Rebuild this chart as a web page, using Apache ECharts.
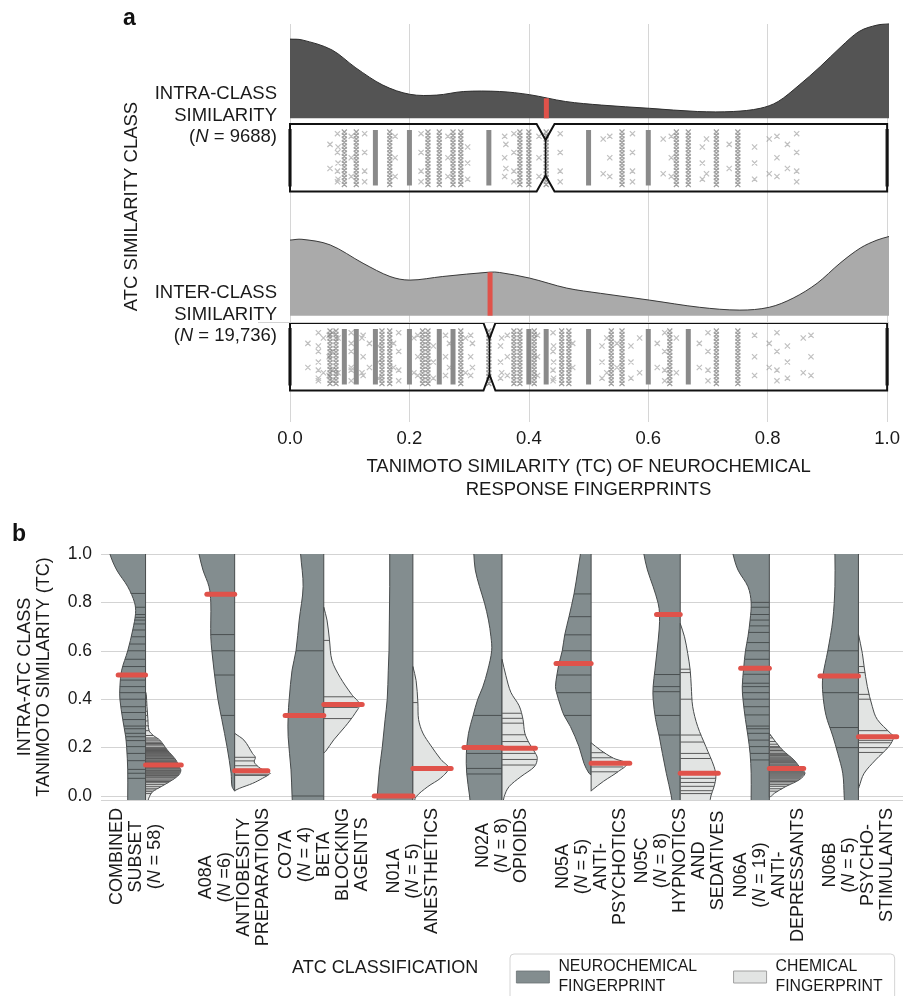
<!DOCTYPE html>
<html><head><meta charset="utf-8">
<script src="https://cdn.jsdelivr.net/npm/echarts@6/dist/echarts.min.js"></script>
<style>html,body{margin:0;padding:0;background:#fff}#c{width:903px;height:996px}</style>
</head><body><div id="c"></div>
<script>
// ================= DATA =================
// Panel a
const ROW_LABELS = [['INTER-CLASS', 'SIMILARITY', '(N = 19,736)'], ['INTRA-CLASS', 'SIMILARITY', '(N = 9688)']];
const A_X_TITLE = 'TANIMOTO SIMILARITY (TC) OF NEUROCHEMICAL\nRESPONSE FINGERPRINTS';
const A_Y_TITLE = 'ATC SIMILARITY CLASS';
const INTRA_DENSITY = [[0,1.98],[0.02,1.96],[0.07,1.71],[0.11,1.26],[0.155,0.83],[0.2,0.6],[0.245,0.58],[0.29,0.67],[0.35,0.67],[0.4,0.59],[0.46,0.42],[0.52,0.33],[0.6,0.25],[0.68,0.17],[0.74,0.17],[0.785,0.25],[0.815,0.42],[0.85,0.83],[0.885,1.29],[0.92,1.79],[0.95,2.17],[0.98,2.33],[1.0,2.36]];
const INTER_DENSITY = [[0,1.89],[0.02,1.91],[0.067,1.77],[0.122,1.31],[0.167,0.98],[0.2,0.89],[0.255,0.98],[0.334,1.09],[0.35,1.08],[0.4,0.94],[0.462,0.69],[0.518,0.56],[0.6,0.39],[0.684,0.21],[0.751,0.14],[0.8,0.21],[0.84,0.44],[0.88,0.81],[0.918,1.31],[0.952,1.69],[0.98,1.89],[1.0,1.98]];
const MEDIANS_A = [0.334, 0.428];        // [inter, intra]
const MEDIAN_DENS_A = [1.085, 0.5];
const NOTCH_A = [0.010, 0.015];
// distinct TC columns of points: [tc, level]  (1 sparse, 2 medium, 3 dense, 4 edge)
const INTRA_COLS = [[0,4],[0.067,1],[0.077,1],[0.083,1],[0.091,2],[0.1,1],[0.111,2],[0.125,1],[0.143,3],[0.167,2],[0.176,1],[0.2,3],[0.222,1],[0.231,2],[0.25,2],[0.267,1],[0.273,2],[0.286,2],[0.3,1],[0.333,3],[0.357,1],[0.364,1],[0.375,1],[0.385,2],[0.4,2],[0.417,1],[0.429,2],[0.455,1],[0.5,3],[0.522,1],[0.538,1],[0.556,2],[0.571,1],[0.6,3],[0.625,1],[0.636,1],[0.647,2],[0.667,2],[0.688,1],[0.7,1],[0.714,2],[0.733,1],[0.75,2],[0.778,1],[0.8,1],[0.818,1],[0.833,1],[0.846,1],[1.0,4]];
const INTER_COLS = [[0,4],[0.03,1],[0.045,1],[0.05,1],[0.056,1],[0.063,1],[0.067,2],[0.071,1],[0.077,2],[0.083,1],[0.091,3],[0.1,1],[0.105,1],[0.111,3],[0.118,1],[0.125,1],[0.133,1],[0.143,3],[0.15,1],[0.154,2],[0.167,2],[0.176,1],[0.182,1],[0.2,3],[0.21,1],[0.214,1],[0.222,2],[0.231,2],[0.24,1],[0.25,3],[0.263,1],[0.267,1],[0.273,3],[0.286,2],[0.294,1],[0.3,1],[0.308,1],[0.333,2],[0.35,1],[0.357,1],[0.364,1],[0.375,2],[0.385,2],[0.4,3],[0.409,2],[0.417,1],[0.429,3],[0.438,1],[0.444,1],[0.455,2],[0.467,2],[0.476,1],[0.5,3],[0.52,1],[0.533,1],[0.538,2],[0.545,1],[0.556,2],[0.571,1],[0.583,1],[0.6,3],[0.615,1],[0.625,1],[0.636,2],[0.647,1],[0.667,3],[0.688,1],[0.7,1],[0.714,2],[0.75,2],[0.778,1],[0.8,1],[0.818,1],[0.833,1],[0.857,1],[0.875,1],[1.0,4]];
const JITTER_PATTERNS = [[0.1,0.5,0.85],[0.25,0.7],[0.05,0.4,0.75,0.95],[0.3,0.6,0.9],[0.15,0.8]];

// Panel b
const CATEGORIES = ['COMBINED SUBSET','A08A','CO7A','N01A','N02A','N05A','N05C','N06A','N06B'];
const CAT_LINES = [
  ['COMBINED','SUBSET','(N = 58)',' '],
  ['A08A','(N =6)','ANTIOBESITY','PREPARATIONS'],
  ['CO7A','(N = 4)','BETA','BLOCKING','AGENTS'],
  ['N01A','(N = 5)','ANESTHETICS'],
  ['N02A','(N = 8)','OPIOIDS'],
  ['N05A','(N = 5)','ANTI-','PSYCHOTICS'],
  ['N05C','(N = 8)','HYPNOTICS','AND','SEDATIVES'],
  ['N06A','(N = 19)','ANTI-','DEPRESSANTS'],
  ['N06B','(N = 5)','PSYCHO-','STIMULANTS']
];
const B_Y_TITLE = 'INTRA-ATC CLASS\nTANIMOTO SIMILARITY (TC)';
const B_X_TITLE = 'ATC CLASSIFICATION';
const B_Y_MIN = -0.0165;
const NEURO_NAME = 'NEUROCHEMICAL\nFINGERPRINT';
const CHEM_NAME = 'CHEMICAL\nFINGERPRINT';
// density outlines [TC, relative density]
const NEURO_OUTLINE = [
  [[1.03,1.02],[1.0,1.0],[0.934,0.81],[0.865,0.5],[0.8,0.31],[0.755,0.28],[0.686,0.36],[0.6,0.5],[0.52,0.67],[0.45,0.72],[0.4,0.72],[0.316,0.64],[0.247,0.56],[0.2,0.53],[0.108,0.5],[0.0,0.5],[-0.03,0.5]],
  [[1.03,1.03],[1.0,1.0],[0.934,0.89],[0.865,0.72],[0.8,0.67],[0.727,0.67],[0.658,0.67],[0.6,0.64],[0.52,0.58],[0.4,0.47],[0.316,0.36],[0.2,0.21],[0.094,0.1],[0.04,0.075],[0.02,0]],
  [[1.03,0.65],[1.0,0.65],[0.865,0.58],[0.727,0.69],[0.6,0.78],[0.52,0.89],[0.4,0.97],[0.333,1.0],[0.245,1.0],[0.108,0.92],[0.0,0.89],[-0.03,0.88]],
  [[1.03,0.65],[1.0,0.65],[0.865,0.65],[0.727,0.66],[0.6,0.67],[0.52,0.69],[0.4,0.72],[0.316,0.78],[0.2,0.86],[0.108,0.94],[0.0,1.0],[-0.03,1.01]],
  [[1.03,0.8],[1.0,0.79],[0.934,0.75],[0.865,0.63],[0.797,0.49],[0.727,0.38],[0.658,0.31],[0.6,0.29],[0.52,0.4],[0.45,0.54],[0.4,0.68],[0.333,0.81],[0.259,0.94],[0.176,1.0],[0.094,0.99],[0.0,0.91],[-0.03,0.89]],
  [[1.03,0.28],[1.0,0.3],[0.934,0.37],[0.835,0.48],[0.741,0.62],[0.666,0.74],[0.6,0.81],[0.548,0.9],[0.5,0.96],[0.452,1.0],[0.427,0.97],[0.369,0.85],[0.333,0.76],[0.287,0.58],[0.204,0.34],[0.135,0.2],[0.094,0.06],[0.088,0]],
  [[1.03,1.04],[1.0,1.02],[0.934,0.92],[0.865,0.76],[0.797,0.62],[0.752,0.58],[0.69,0.59],[0.6,0.65],[0.52,0.71],[0.452,0.76],[0.4,0.76],[0.316,0.69],[0.248,0.59],[0.176,0.5],[0.094,0.39],[0.0,0.25],[-0.03,0.23]],
  [[1.03,1.05],[1.0,1.02],[0.934,0.88],[0.865,0.6],[0.8,0.51],[0.727,0.54],[0.658,0.6],[0.6,0.67],[0.528,0.72],[0.452,0.76],[0.4,0.74],[0.316,0.67],[0.248,0.6],[0.176,0.54],[0.094,0.51],[0.0,0.51],[-0.03,0.51]],
  [[1.03,0.66],[1.0,0.66],[0.865,0.66],[0.727,0.72],[0.6,0.86],[0.493,1.0],[0.424,1.0],[0.333,0.91],[0.248,0.72],[0.176,0.58],[0.094,0.44],[0.0,0.4],[-0.03,0.39]]
];
const CHEM_OUTLINE = [
  [[0.43,0],[0.42,0.02],[0.37,0.04],[0.32,0.065],[0.27,0.1],[0.25,0.22],[0.231,0.4],[0.19,0.61],[0.149,0.85],[0.121,0.94],[0.108,0.99],[0.088,0.94],[0.066,0.75],[0.039,0.44],[0.018,0.2],[-0.009,0.09],[-0.03,0.05]],
  [[0.259,0],[0.231,0.26],[0.176,0.5],[0.16,0.58],[0.14,0.55],[0.12,0.67],[0.1,0.89],[0.094,1.0],[0.073,0.78],[0.052,0.5],[0.032,0.14],[0.022,0]],
  [[0.78,0],[0.727,0.09],[0.645,0.16],[0.56,0.23],[0.49,0.46],[0.42,0.78],[0.38,1.0],[0.342,0.88],[0.287,0.6],[0.232,0.28],[0.184,0.05],[0.178,0]],
  [[0.535,0],[0.477,0.09],[0.386,0.14],[0.316,0.16],[0.26,0.28],[0.207,0.51],[0.15,0.79],[0.116,1.0],[0.074,0.78],[0.039,0.42],[-0.003,0.09],[-0.03,0.04]],
  [[0.565,0],[0.497,0.11],[0.428,0.25],[0.373,0.48],[0.316,0.59],[0.26,0.64],[0.219,0.76],[0.176,0.94],[0.155,0.99],[0.12,0.9],[0.08,0.53],[0.039,0.2],[-0.003,0.06],[-0.03,0.03]],
  [[0.22,0],[0.19,0.26],[0.156,0.63],[0.135,1.0],[0.102,0.77],[0.061,0.35],[0.025,0.03],[0.02,0]],
  [[0.713,0],[0.658,0.12],[0.589,0.21],[0.52,0.28],[0.452,0.31],[0.369,0.35],[0.287,0.49],[0.204,0.72],[0.121,0.95],[0.08,1.0],[0.039,0.95],[0.0,0.86],[-0.03,0.83]],
  [[0.259,0],[0.231,0.14],[0.19,0.37],[0.149,0.69],[0.114,0.88],[0.094,1.0],[0.066,0.83],[0.039,0.46],[0.011,0.14],[0.0,0.06],[-0.005,0]],
  [[0.669,0],[0.589,0.11],[0.534,0.16],[0.452,0.25],[0.369,0.39],[0.316,0.53],[0.259,0.9],[0.245,0.99],[0.204,0.85],[0.149,0.48],[0.094,0.16],[0.039,0.02],[0.03,0]]
];
const NEURO_MEDIAN = [0.5, 0.834, 0.333, 0.0, 0.2, 0.548, 0.75, 0.528, 0.496];
const CHEM_MEDIAN = [0.128, 0.104, 0.378, 0.114, 0.197, 0.135, 0.094, 0.114, 0.245];
const NEURO_VALUES = [
  [0.837,0.78,0.75,0.738,0.727,0.711,0.686,0.658,0.628,0.6,0.565,0.535,0.479,0.452,0.427,0.4,0.369,0.345,0.316,0.289,0.278,0.259,0.245,0.229,0.204,0.176,0.146,0.11,0.094,0.073],
  [0.667,0.6,0.5,0.333],
  [0.6,0.333,0.0],
  [0.0],
  [0.333,0.176,0.114,0.091],
  [0.835,0.741,0.666,0.6,0.5,0.427,0.333],
  [0.502,0.452,0.431,0.333,0.252],
  [0.8,0.78,0.75,0.727,0.703,0.676,0.634,0.6,0.565,0.503,0.466,0.452,0.427,0.4,0.369,0.335,0.289,0.278,0.259,0.231,0.204,0.176,0.149],
  [0.6,0.427,0.283,0.2]
];
const CHEM_VALUES = [
  [0.41,0.39,0.375,0.35,0.333,0.31,0.29,0.27,0.25,0.24,0.235,0.228,0.222,0.217,0.212,0.207,0.2,0.196,0.192,0.188,0.184,0.18,0.176,0.172,0.168,0.165,0.162,0.158,0.155,0.152,0.148,0.145,0.142,0.138,0.135,0.132,0.125,0.122,0.118,0.115,0.112,0.108,0.105,0.102,0.098,0.095,0.092,0.088,0.085,0.082,0.078,0.075,0.07,0.065,0.06,0.055,0.048,0.04,0.032,0.025,0.018,0.01],
  [0.16,0.145,0.125,0.11,0.09,0.085],
  [0.643,0.41,0.366,0.32],
  [0.386],
  [0.342,0.321,0.301,0.253,0.225,0.176,0.151,0.128],
  [0.179,0.158,0.141,0.12,0.1],
  [0.524,0.51,0.4,0.252,0.223,0.176,0.155,0.073,0.056,0.04,0.022,0.01],
  [0.25,0.24,0.225,0.214,0.205,0.2,0.194,0.188,0.182,0.176,0.171,0.167,0.162,0.158,0.154,0.15,0.146,0.142,0.138,0.133,0.129,0.125,0.121,0.117,0.11,0.106,0.102,0.098,0.094,0.09,0.086,0.082,0.078,0.074,0.07,0.065,0.06,0.054,0.047,0.04,0.03,0.02],
  [0.535,0.51,0.42,0.4,0.27,0.23,0.22,0.2,0.18]
];

// ================= STYLE =================
const FONT = '"Liberation Sans", Arial, Helvetica, sans-serif';
const TXT = '#1a1a1a';
const RED = '#e0524a';
const NEURO_FILL = '#838d8f';
const CHEM_FILL = '#e2e4e3';
const CAT_FONT_SIZE = 18, CAT_LINE = 19;

const measureCtx = document.createElement('canvas').getContext('2d');
function textWidth(s, font) { measureCtx.font = font; return measureCtx.measureText(s).width; }

function richText(lines, s, si) {
  return lines.map(l => {
    const m = l.match(/^\(N(.*)$/);
    if (m) return '{' + s + '|(}{' + si + '|N}{' + s + '|' + m[1] + '}';
    return '{' + s + '|' + l + '}';
  }).join('\n');
}
// cubic Hermite path, x as a function of y (pts sorted by y)
function splineY(pts) {
  const n = pts.length, m = [];
  for (let k = 0; k < n; k++) {
    const a = pts[Math.max(0, k - 1)], b = pts[Math.min(n - 1, k + 1)];
    const dy = b[1] - a[1];
    m[k] = dy === 0 ? 0 : (b[0] - a[0]) / dy;
  }
  let d = '';
  for (let k = 0; k < n - 1; k++) {
    const h = pts[k + 1][1] - pts[k][1];
    d += ' C' + (pts[k][0] + m[k] * h / 3) + ' ' + (pts[k][1] + h / 3) + ' ' +
      (pts[k + 1][0] - m[k + 1] * h / 3) + ' ' + (pts[k + 1][1] - h / 3) + ' ' + pts[k + 1][0] + ' ' + pts[k + 1][1];
  }
  return d;
}
// cubic Hermite path, y as a function of x (pts sorted by x)
function splineX(pts) {
  const n = pts.length, m = [];
  for (let k = 0; k < n; k++) {
    const a = pts[Math.max(0, k - 1)], b = pts[Math.min(n - 1, k + 1)];
    const dx = b[0] - a[0];
    m[k] = dx === 0 ? 0 : (b[1] - a[1]) / dx;
  }
  let d = '';
  for (let k = 0; k < n - 1; k++) {
    const h = pts[k + 1][0] - pts[k][0];
    d += ' C' + (pts[k][0] + h / 3) + ' ' + (pts[k][1] + m[k] * h / 3) + ' ' +
      (pts[k + 1][0] - h / 3) + ' ' + (pts[k + 1][1] - m[k + 1] * h / 3) + ' ' + pts[k + 1][0] + ' ' + pts[k + 1][1];
  }
  return d;
}
function widthAt(out, v) {
  for (let k = 0; k < out.length - 1; k++) {
    const a = out[k], b = out[k + 1];
    if (v <= a[0] && v >= b[0]) {
      const t = a[0] === b[0] ? 0 : (a[0] - v) / (a[0] - b[0]);
      return a[1] + (b[1] - a[1]) * t;
    }
  }
  return 0;
}
function xMark(x, y, s) {
  return 'M' + (x - s) + ' ' + (y - s) + 'L' + (x + s) + ' ' + (y + s) + 'M' + (x + s) + ' ' + (y - s) + 'L' + (x - s) + ' ' + (y + s);
}

function renderDensity(params, api, dens, fill, stroke) {
  if (params.dataIndex !== 0) return null;
  const pts = dens.map(p => api.coord(p));
  const x0 = pts[0][0], x1 = pts[pts.length - 1][0];
  const yb = api.coord([dens[0][0], 0])[1];
  const curve = 'M' + pts[0][0] + ' ' + pts[0][1] + splineX(pts);
  const area = 'M' + x0 + ' ' + yb + ' L' + pts[0][0] + ' ' + pts[0][1] + splineX(pts) + ' L' + x1 + ' ' + yb + ' Z';
  return {
    type: 'group', children: [
      { type: 'path', shape: { pathData: area }, style: { fill: fill, stroke: 'none' } },
      { type: 'path', shape: { pathData: curve }, style: { fill: 'none', stroke: stroke, lineWidth: 1 } }
    ]
  };
}
function renderHalf(api, side, OUT, VALS, fill, lineColor) {
  const i = api.value(0);
  const cx = api.coord([i, 0])[0];
  const S = api.size([1, 0])[0] * 0.4;
  const Y = v => api.coord([i, v])[1];
  const out = OUT[i];
  const pts = out.map(p => [cx + side * p[1] * S, Y(p[0])]);
  const d = 'M' + cx + ' ' + pts[0][1] + ' L' + pts[0][0] + ' ' + pts[0][1] + splineY(pts) +
    ' L' + cx + ' ' + pts[pts.length - 1][1] + ' Z';
  const children = [{ type: 'path', shape: { pathData: d }, style: { fill: fill, stroke: '#474b4c', lineWidth: 1 } }];
  let lp = '';
  VALS[i].forEach(v => {
    const w = widthAt(out, v) * S;
    if (w > 0.3) lp += 'M' + cx + ' ' + Y(v) + 'L' + (cx + side * w) + ' ' + Y(v);
  });
  if (lp) children.push({ type: 'path', shape: { pathData: lp }, style: { fill: 'none', stroke: lineColor, lineWidth: 1 } });
  return { type: 'group', children: children };
}
function renderMedians(api) {
  const i = api.value(0);
  const cx = api.coord([i, 0])[0];
  const S = api.size([1, 0])[0] * 0.4;
  const Y = v => api.coord([i, v])[1];
  const items = [[-1, NEURO_OUTLINE, NEURO_MEDIAN], [1, CHEM_OUTLINE, CHEM_MEDIAN]];
  return {
    type: 'group', children: items.map(([side, OUT, MED]) => {
      const m = MED[i];
      const w = widthAt(OUT[i], m) * S + 3;
      return { type: 'line', shape: { x1: cx, y1: Y(m), x2: cx + side * w, y2: Y(m) }, style: { stroke: RED, lineWidth: 5, lineCap: 'round' } };
    })
  };
}
function renderCatLabel(params, api) {
  const i = api.value(0);
  const cx = api.coord([i, 0])[0];
  const y0 = api.coord([i, B_Y_MIN])[1] + 8;
  const lines = CAT_LINES[i];
  const font = CAT_FONT_SIZE + 'px ' + FONT;
  const W = Math.max(...lines.map(l => textWidth(l, font)));
  const n = lines.length;
  const rich = {
    c: { fontSize: CAT_FONT_SIZE, fontFamily: FONT, fill: TXT, color: TXT },
    ci: { fontSize: CAT_FONT_SIZE, fontFamily: FONT, fill: TXT, color: TXT, fontStyle: 'italic' }
  };
  return {
    type: 'group', children: lines.map((l, k) => ({
      type: 'text', x: cx + (k - (n - 1) / 2) * CAT_LINE, y: y0 + W / 2, rotation: Math.PI / 2,
      style: { text: richText([l], 'c', 'ci'), rich: rich, align: 'center', verticalAlign: 'middle', font: font, fill: TXT }
    }))
  };
}
function renderBox(params, api) {
  const r = api.value(1);
  const cy = api.coord([0, r])[1];
  const top = cy + 0.5, bot = cy + 68;
  const cols = r === 1 ? INTRA_COLS : INTER_COLS;
  const X = tc => api.coord([tc, r])[0];
  let p1 = '', p2 = '';
  const rects = [];
  cols.forEach((c, k) => {
    const x = X(c[0]), lvl = c[1];
    if (lvl === 4) rects.push({ type: 'rect', shape: { x: x - 1.8, y: top + 5, width: 3.6, height: bot - top - 10 }, style: { fill: '#5c5c5c' } });
    else if (lvl === 3) rects.push({ type: 'rect', shape: { x: x - 2.5, y: top + 6, width: 5, height: bot - top - 12 }, style: { fill: '#8a8a8a' } });
    else if (lvl === 2) { for (let y = top + 8; y <= bot - 7; y += 3.5) p2 += xMark(x, y, 2.5); }
    else JITTER_PATTERNS[k % 5].forEach(f => { p1 += xMark(x + ((k % 3) - 1) * 1.5, top + 7 + f * (bot - top - 14), 2.6); });
  });
  const m = MEDIANS_A[r], nw = NOTCH_A[r], nd = 16;
  const box = [[X(0), top], [X(m - nw), top], [X(m), top + nd], [X(m + nw), top], [X(1), top], [X(1), bot],
    [X(m + nw), bot], [X(m), bot - nd], [X(m - nw), bot], [X(0), bot]];
  const children = [];
  if (p1) children.push({ type: 'path', shape: { pathData: p1 }, style: { fill: 'none', stroke: 'rgba(140,140,140,0.55)', lineWidth: 1.2 } });
  if (p2) children.push({ type: 'path', shape: { pathData: p2 }, style: { fill: 'none', stroke: 'rgba(120,120,120,0.7)', lineWidth: 1.2 } });
  children.push(...rects);
  children.push({ type: 'polygon', shape: { points: box }, style: { fill: 'none', stroke: '#111', lineWidth: 2, lineJoin: 'miter' } });
  children.push({ type: 'line', shape: { x1: X(m), y1: top + nd, x2: X(m), y2: bot - nd }, style: { stroke: '#111', lineWidth: 1.5 } });
  if (r === 0) {
    const yb = api.coord([0, -0.5])[1];
    children.push({ type: 'line', shape: { x1: X(0) - 32, y1: yb, x2: X(1) + 1, y2: yb }, style: { stroke: '#d2d2d2', lineWidth: 1.2 } });
  }
  return { type: 'group', children: children };
}
function renderMedianA(params, api) {
  const p0 = api.coord([api.value(0), 0]);
  const p1 = api.coord([api.value(0), api.value(1)]);
  return { type: 'rect', shape: { x: p0[0] - 2.5, y: p1[1], width: 5, height: p0[1] - p1[1] }, style: { fill: RED } };
}

const chart = echarts.init(document.getElementById('c'), null, { renderer: 'canvas', width: 903, height: 996 });
const option = {
  animation: false,
  backgroundColor: '#fff',
  textStyle: { fontFamily: FONT, color: TXT },
  graphic: [
    { type: 'text', left: 123, top: 7, style: { text: 'a', font: 'bold 23px ' + FONT, fill: '#111' } },
    { type: 'text', left: 12, top: 523, style: { text: 'b', font: 'bold 23px ' + FONT, fill: '#111' } },
    { type: 'text', left: 292, top: 959, style: { text: B_X_TITLE, font: '18px ' + FONT, fill: TXT } }
  ],
  legend: {
    left: 510, top: 954, orient: 'horizontal', padding: [3, 12, 20, 6], itemGap: 36, itemWidth: 33, itemHeight: 12,
    borderColor: '#d4d4d4', borderWidth: 1, borderRadius: 4, selectedMode: false,
    textStyle: { fontSize: 15.8, lineHeight: 20, color: TXT, fontFamily: FONT, padding: [0, 0, 0, 4] },
    data: [
      { name: NEURO_NAME, icon: 'rect', itemStyle: { color: NEURO_FILL, borderColor: '#6b7273', borderWidth: 0.8 } },
      { name: CHEM_NAME, icon: 'rect', itemStyle: { color: CHEM_FILL, borderColor: '#a0a0a0', borderWidth: 1 } }
    ]
  },
  grid: [
    { left: 290, top: 24, width: 599, height: 398 },
    { left: 290, top: 18.3, width: 599, height: 100 },
    { left: 290, top: 215.7, width: 599, height: 100 },
    { left: 101, top: 554, width: 806, height: 246 }
  ],
  xAxis: [
    {
      gridIndex: 0, type: 'value', min: 0, max: 1, interval: 0.2,
      axisLine: { show: false }, axisTick: { show: false },
      splitLine: { show: true, lineStyle: { color: '#d6d6d6', width: 1 } },
      axisLabel: { formatter: v => v.toFixed(1), fontSize: 18.5, margin: 7, color: TXT, fontFamily: FONT },
      name: A_X_TITLE, nameLocation: 'middle', nameGap: 34, nameMoveOverlap: false,
      nameTextStyle: { fontSize: 18.5, lineHeight: 22.5, color: TXT, fontFamily: FONT }
    },
    { gridIndex: 1, type: 'value', min: 0, max: 1, show: false },
    { gridIndex: 2, type: 'value', min: 0, max: 1, show: false },
    {
      gridIndex: 3, type: 'category', data: CATEGORIES, boundaryGap: true,
      axisLine: { show: false }, axisTick: { show: false }, splitLine: { show: false },
      axisLabel: { show: false }
    }
  ],
  yAxis: [
    {
      gridIndex: 0, type: 'category', data: ['INTER', 'INTRA'], boundaryGap: true,
      axisLine: { show: false }, axisTick: { show: false }, splitLine: { show: false },
      axisLabel: {
        margin: 13, color: TXT, fontFamily: FONT, fontSize: 18.5, padding: [0, 0, 16, 0],
        formatter: (v, idx) => richText(ROW_LABELS[idx], 'r', 'ri'),
        rich: {
          r: { align: 'right', fontSize: 18.5, lineHeight: 21.7, fontFamily: FONT, color: TXT },
          ri: { align: 'right', fontSize: 18.5, lineHeight: 21.7, fontFamily: FONT, color: TXT, fontStyle: 'italic' }
        }
      },
      name: A_Y_TITLE, nameLocation: 'middle', nameRotate: 90, nameGap: 149, nameMoveOverlap: false,
      nameTextStyle: { fontSize: 18.5, color: TXT, fontFamily: FONT, padding: [0, 0, 0, 33] }
    },
    { gridIndex: 1, type: 'value', min: 0, max: 2.5, show: false },
    { gridIndex: 2, type: 'value', min: 0, max: 2.5, show: false },
    {
      gridIndex: 3, type: 'value', min: B_Y_MIN, max: 1, splitNumber: 5,
      axisLine: { show: false }, axisTick: { show: false },
      splitLine: { show: true, lineStyle: { color: '#d3d3d3', width: 1.2 } },
      axisLabel: {
        showMinLabel: false, margin: 9, fontSize: 17.5, color: TXT, fontFamily: FONT,
        formatter: v => (Math.abs(v * 5 - Math.round(v * 5)) < 1e-6 ? v.toFixed(1) : '')
      },
      name: B_Y_TITLE, nameLocation: 'middle', nameRotate: 90, nameGap: 47, nameMoveOverlap: false,
      nameTextStyle: { fontSize: 18, lineHeight: 19.5, color: TXT, fontFamily: FONT, align: 'center' }
    }
  ],
  series: [
    {
      type: 'custom', name: 'intra-density', xAxisIndex: 1, yAxisIndex: 1, data: INTRA_DENSITY, silent: true,
      renderItem: (p, api) => renderDensity(p, api, INTRA_DENSITY, '#545454', '#2e2e2e')
    },
    {
      type: 'custom', name: 'inter-density', xAxisIndex: 2, yAxisIndex: 2, data: INTER_DENSITY, silent: true,
      renderItem: (p, api) => renderDensity(p, api, INTER_DENSITY, '#aaaaaa', '#3a3a3a')
    },
    { type: 'custom', name: 'intra-median', xAxisIndex: 1, yAxisIndex: 1, data: [[MEDIANS_A[1], MEDIAN_DENS_A[1]]], renderItem: renderMedianA, z: 5 },
    { type: 'custom', name: 'inter-median', xAxisIndex: 2, yAxisIndex: 2, data: [[MEDIANS_A[0], MEDIAN_DENS_A[0]]], renderItem: renderMedianA, z: 5 },
    {
      type: 'custom', name: 'boxes', xAxisIndex: 0, yAxisIndex: 0, data: [[0.5, 0], [0.5, 1]],
      encode: { x: 0, y: 1 }, renderItem: renderBox, clip: false
    },
    {
      type: 'custom', name: NEURO_NAME, xAxisIndex: 3, yAxisIndex: 3, clip: true,
      data: CATEGORIES.map((c, i) => [i, 0]), encode: { x: 0, y: 1 },
      itemStyle: { color: NEURO_FILL },
      renderItem: (p, api) => renderHalf(api, -1, NEURO_OUTLINE, NEURO_VALUES, NEURO_FILL, '#4a5051')
    },
    {
      type: 'custom', name: CHEM_NAME, xAxisIndex: 3, yAxisIndex: 3, clip: true,
      data: CATEGORIES.map((c, i) => [i, 0]), encode: { x: 0, y: 1 },
      itemStyle: { color: CHEM_FILL },
      renderItem: (p, api) => renderHalf(api, 1, CHEM_OUTLINE, CHEM_VALUES, CHEM_FILL, '#5a5a5a')
    },
    {
      type: 'custom', name: 'medians', xAxisIndex: 3, yAxisIndex: 3, clip: true, z: 5,
      data: CATEGORIES.map((c, i) => [i, 0]), encode: { x: 0, y: 1 },
      renderItem: (p, api) => renderMedians(api)
    },
    {
      type: 'custom', name: 'category-labels', xAxisIndex: 3, yAxisIndex: 3, clip: false, silent: true,
      data: CATEGORIES.map((c, i) => [i, 0]), encode: { x: 0, y: 1 },
      renderItem: renderCatLabel
    }
  ]
};
chart.setOption(option);
</script>
</body></html>
